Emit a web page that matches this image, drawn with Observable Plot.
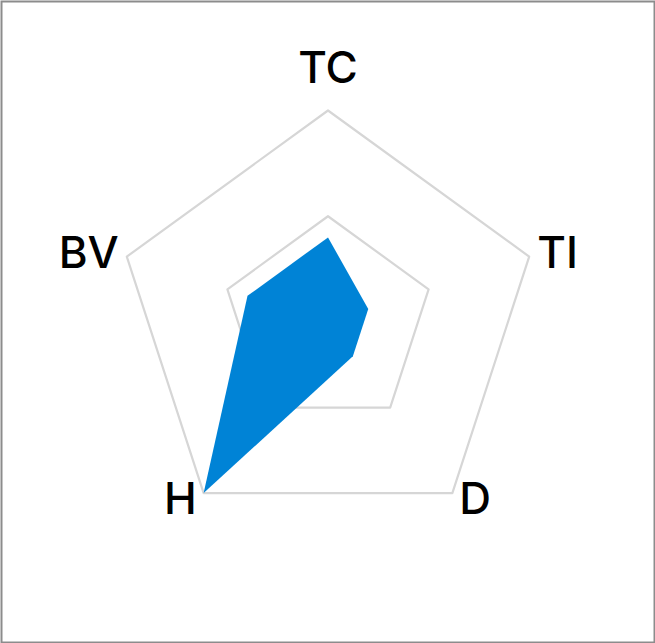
<!DOCTYPE html>
<html>
<head>
<meta charset="utf-8">
<script src="https://cdn.jsdelivr.net/npm/d3@7"></script>
<script src="https://cdn.jsdelivr.net/npm/@observablehq/plot@0.6"></script>
<style>
  html, body { margin: 0; padding: 0; background: #fff; }
  #chart svg { display: block; }
</style>
</head>
<body>
<div id="chart"></div>
<script>
const categories = ["TC", "TI", "D", "H", "BV"];
const values = [0.4, 0.2, 0.2, 1.0, 0.4];
const gridLevels = [0.5, 1];

const n = categories.length;
const angle = i => (2 * Math.PI * i) / n;

const gridPoints = gridLevels.flatMap(level =>
  categories.map((c, i) => ({ level, x: level * Math.sin(angle(i)), y: level * Math.cos(angle(i)) }))
);
const dataPoints = categories.map((c, i) => ({
  cat: c, x: values[i] * Math.sin(angle(i)), y: values[i] * Math.cos(angle(i))
}));
const labelPoints = categories.map((c, i) => ({
  cat: c, i, x: Math.sin(angle(i)), y: Math.cos(angle(i))
}));

const font = { fontFamily: "Inter", fontSize: 44, fontWeight: 500, fill: "#000", lineAnchor: "bottom" };

const chart = Plot.plot({
  width: 655,
  height: 643,
  margin: 0,
  x: { domain: [-1.548, 1.548], axis: null },
  y: { domain: [-1.52, 1.52], axis: null },
  marks: [
    Plot.frame({ stroke: "#8c8c8c", strokeWidth: 2, inset: 1 }),
    Plot.line(gridPoints, { x: "x", y: "y", z: "level", curve: "linear-closed", stroke: "#d6d6d6", strokeWidth: 2.2 }),
    Plot.line(dataPoints, { x: "x", y: "y", curve: "linear-closed", fill: "#0083d6", stroke: "none" }),
    Plot.text(labelPoints.filter(d => d.cat === "TC"), { x: "x", y: "y", text: "cat", textAnchor: "middle", dy: -27, ...font }),
    Plot.text(labelPoints.filter(d => d.cat === "TI"), { x: "x", y: "y", text: "cat", textAnchor: "start", dx: 8, dy: 11, ...font }),
    Plot.text(labelPoints.filter(d => d.cat === "D"), { x: "x", y: "y", text: "cat", textAnchor: "start", dx: 7, dy: 21, ...font }),
    Plot.text(labelPoints.filter(d => d.cat === "H"), { x: "x", y: "y", text: "cat", textAnchor: "end", dx: -7, dy: 21, ...font }),
    Plot.text(labelPoints.filter(d => d.cat === "BV"), { x: "x", y: "y", text: "cat", textAnchor: "end", dx: -8, dy: 11, ...font })
  ]
});
document.getElementById("chart").appendChild(chart);
</script>
</body>
</html>
